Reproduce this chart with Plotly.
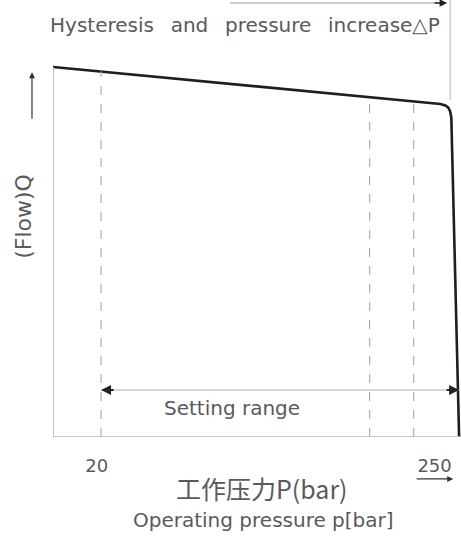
import numpy as np
import plotly.graph_objects as go

# characteristic curve: flow Q vs operating pressure p
pressure = [-13.3, 255.0, 258.5, 260.5, 261.8, 262.6, 268.0]
flow = [100.0, 90.0, 89.6, 89.0, 88.0, 86.3, 0.0]

# dashed guide lines (bar)
guide_p = [20, 206, 236.5]

# setting range (bar)
setting_range = [20, 268]

tick_vals = [17, 251]
tick_text = ["20", "250"]

GREY = "#5a5a5a"
FONT = "DejaVu Sans"

fig = go.Figure()

fig.add_trace(go.Scatter(
    x=pressure, y=flow, mode="lines",
    line=dict(color="#1e1e1e", width=2.6),
    hoverinfo="skip", showlegend=False
))

# dashed verticals from the axis up to the curve
for p in guide_p:
    top = float(np.interp(p, pressure[:2], flow[:2]))
    fig.add_shape(type="line", x0=p, x1=p, y0=0, y1=top,
                  line=dict(color="#b0b0b0", width=1.2, dash="dash"))

# axis lines
fig.add_shape(type="line", x0=-13.3, x1=-13.3, y0=0, y1=100,
              line=dict(color="#b5b5b5", width=1.6))
fig.add_shape(type="line", x0=-13.3, x1=269.3, y0=0, y1=0,
              line=dict(color="#b5b5b5", width=1.6))

# setting range line with arrow heads
fig.add_shape(type="line", x0=setting_range[0], x1=setting_range[1], y0=12.7, y1=12.7,
              line=dict(color="#b0b0b0", width=1.2))
for p, off in [(setting_range[0], 14), (setting_range[1], -14)]:
    fig.add_annotation(x=p, y=12.7, ax=off, ay=0, text="", showarrow=True,
                       arrowhead=2, arrowsize=1, arrowwidth=2, arrowcolor="#222")

# top arrow and marker line
fig.add_shape(type="line", x0=109.4, x1=255, y0=117.3, y1=117.3,
              line=dict(color="#999", width=1))
fig.add_annotation(x=259.7, y=117.3, ax=-14, ay=0, text="", showarrow=True,
                   arrowhead=2, arrowsize=1, arrowwidth=1.5, arrowcolor="#222")
fig.add_shape(type="line", x0=261.8, x1=261.8, y0=91.1, y1=118.1,
              line=dict(color="#a9b4bd", width=1))

gap = "\u00a0\u2009 "
fig.add_annotation(x=119.8, y=111.4,
                   text=f"Hysteresis{gap}and{gap}pressure{gap}increase△P",
                   showarrow=False, xanchor="center", yanchor="middle",
                   font=dict(family=FONT, size=20, color=GREY))
fig.add_annotation(x=110.5, y=7.8, text="Setting range", showarrow=False,
                   xanchor="center", yanchor="middle",
                   font=dict(family=FONT, size=20, color=GREY))

# y axis label and arrow
fig.add_annotation(xref="paper", x=-0.071, y=59.5, text="(Flow)Q", textangle=-90,
                   showarrow=False, xanchor="center", yanchor="middle",
                   font=dict(family=FONT, size=22, color=GREY))
fig.add_annotation(xref="paper", x=-0.0515, y=98.6, ax=0, ay=48, text="",
                   showarrow=True, arrowhead=2, arrowsize=1, arrowwidth=1.2,
                   arrowcolor="#333")

# x axis labels and arrow
fig.add_annotation(xref="paper", yref="paper", x=0.512, y=-0.117,
                   text="工作压力P(bar)",
                   showarrow=False, xanchor="center", yanchor="middle",
                   font=dict(family="Noto Sans CJK SC", size=25, color=GREY))
fig.add_annotation(xref="paper", yref="paper", x=0.515, y=-0.191,
                   text="Operating pressure p[bar]", showarrow=False,
                   xanchor="center", yanchor="middle",
                   font=dict(family=FONT, size=20, color=GREY))
fig.add_annotation(yref="paper", x=263.9, y=-0.096, ax=-38, ay=0, text="",
                   showarrow=True, arrowhead=2, arrowsize=1, arrowwidth=1.2,
                   arrowcolor="#333")

fig.update_layout(
    width=461, height=544,
    margin=dict(l=53, r=0, t=0, b=107),
    plot_bgcolor="white", paper_bgcolor="white",
    showlegend=False,
    xaxis=dict(range=[-13.3, 269.3], showgrid=False, zeroline=False, showline=False,
               tickvals=tick_vals, ticktext=tick_text, ticks="outside", ticklen=12,
               tickcolor="rgba(0,0,0,0)", automargin=False,
               tickfont=dict(family=FONT, size=18, color=GREY)),
    yaxis=dict(range=[0, 118.1], showgrid=False, zeroline=False, showline=False,
               showticklabels=False, automargin=False),
)

fig.write_html("out.html", config={"displayModeBar": False, "responsive": False},
               post_script="document.body.style.margin='0';")
